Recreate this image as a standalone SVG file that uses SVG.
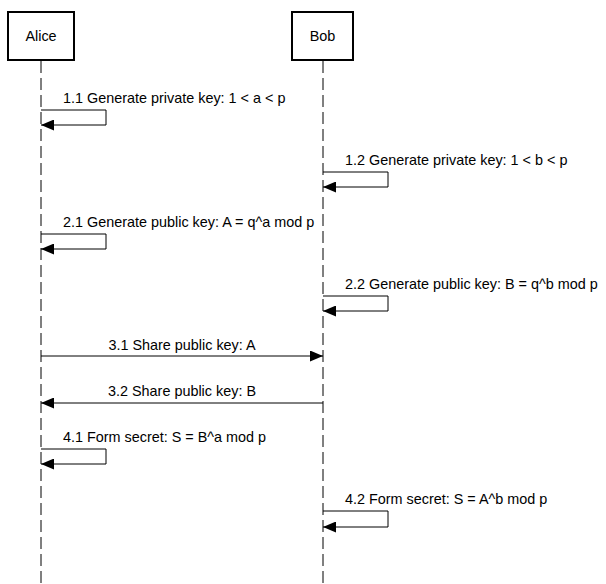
<svg xmlns="http://www.w3.org/2000/svg" width="606" height="584" viewBox="0 0 606 584">
<style>
.box{fill:#fff;stroke:#000;stroke-width:2}
.life{stroke:#000;stroke-width:1;stroke-dasharray:12,5;fill:none}
.msg{stroke:#000;stroke-width:1;fill:none}
text{font-family:"Liberation Sans",Arial,sans-serif;font-size:14.4px;fill:#000}
.c{text-anchor:middle}
</style>
<defs>
<marker id="ah" viewBox="0 0 13 11" refX="13" refY="5.5" markerWidth="13" markerHeight="11" markerUnits="userSpaceOnUse" orient="auto">
<path d="M0,0 L13,5.5 L0,11 Z" fill="#000"/>
</marker>
</defs>
<rect width="606" height="584" fill="#fff"/>
<g id="alice">
<line class="life" x1="41" y1="61" x2="41" y2="584"/>
<rect class="box" x="8" y="12" width="66" height="48"/>
<text class="c" x="41" y="41">Alice</text>
</g>
<g id="bob">
<line class="life" x1="323" y1="61" x2="323" y2="584"/>
<rect class="box" x="292" y="12" width="61" height="48"/>
<text class="c" x="322.5" y="41">Bob</text>
</g>
<g id="connectors">
<path class="msg" d="M41,110 H106 V125 H41" marker-end="url(#ah)"/>
<text x="63" y="103">1.1 Generate private key: 1 &lt; a &lt; p</text>
<path class="msg" d="M323,172 H388 V187 H323" marker-end="url(#ah)"/>
<text x="345" y="165">1.2 Generate private key: 1 &lt; b &lt; p</text>
<path class="msg" d="M41,234 H106 V249 H41" marker-end="url(#ah)"/>
<text x="63" y="227">2.1 Generate public key: A = q^a mod p</text>
<path class="msg" d="M323,296 H388 V311 H323" marker-end="url(#ah)"/>
<text x="345" y="289">2.2 Generate public key: B = q^b mod p</text>
<path class="msg" d="M41,356 H323" marker-end="url(#ah)"/>
<text class="c" x="182" y="350">3.1 Share public key: A</text>
<path class="msg" d="M323,403 H41" marker-end="url(#ah)"/>
<text class="c" x="182" y="396">3.2 Share public key: B</text>
<path class="msg" d="M41,449 H106 V464 H41" marker-end="url(#ah)"/>
<text x="63" y="442">4.1 Form secret: S = B^a mod p</text>
<path class="msg" d="M323,511 H388 V527 H323" marker-end="url(#ah)"/>
<text x="345" y="504">4.2 Form secret: S = A^b mod p</text>
</g>
</svg>
